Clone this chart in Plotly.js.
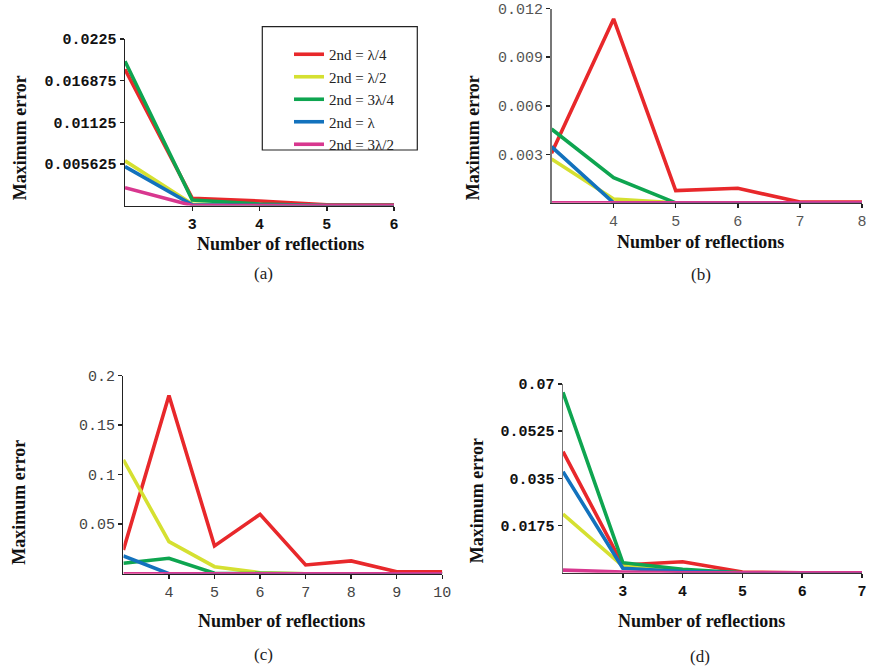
<!DOCTYPE html>
<html>
<head>
<meta charset="utf-8">
<script src="https://cdn.plot.ly/plotly-3.0.1.min.js"></script>
<style>html,body{margin:0;padding:0;background:#fff;}#chart{width:869px;height:667px;}</style>
</head>
<body>
<div id="chart"></div>
<script>
// ---- Data ----
const seriesNames = ["2nd = λ/4", "2nd = λ/2", "2nd = 3λ/4", "2nd = λ", "2nd = 3λ/2"];
const seriesColors = ["#e8282b", "#d5e031", "#0ea550", "#1372bd", "#d8378f"];

// Panel (a)
const xA = [2, 3, 4, 5, 6];
const aRed     = [0.0184, 0.00098, 0.0006, 0.0001, 0.0001];
const aYellow  = [0.00603, 0.0002, 0.0, 0.0, 0.0];
const aGreen   = [0.0195, 0.00075, 0.0002, 0.0, 0.0];
const aBlue    = [0.00526, 0.0001, 0.0, 0.0, 0.0];
const aMagenta = [0.00241, 0.0, 0.0, 0.0, 0.0];
const aTickVals = [0.005625, 0.01125, 0.016875, 0.0225];
const aTickText = ["0.005625", "0.01125", "0.016875", "0.0225"];
const aXTicks = [3, 4, 5, 6];

// Panel (b)
const xB = [3, 4, 5, 6, 7, 8];
const bRed     = [0.00306, 0.01137, 0.00075, 0.0009, 0.00005, 0.00005];
const bYellow  = [0.00271, 0.00023, 0.0, 0.0, 0.0, 0.0];
const bGreen   = [0.00456, 0.00155, 0.0, 0.0, 0.0, 0.0];
const bBlue    = [0.00347, 0.0, 0.0, 0.0, 0.0, 0.0];
const bMagenta = [0.0, 0.0, 0.0, 0.0, 0.0, 0.0];
const bTickVals = [0.003, 0.006, 0.009, 0.012];
const bTickText = ["0.003", "0.006", "0.009", "0.012"];
const bXTicks = [4, 5, 6, 7, 8];

// Panel (c)
const xC = [3, 4, 5, 6, 7, 8, 9, 10];
const cRed     = [0.024, 0.18, 0.028, 0.060, 0.0088, 0.0129, 0.002, 0.002];
const cYellow  = [0.115, 0.0324, 0.0071, 0.001, 0.0, 0.0, 0.0, 0.0];
const cGreen   = [0.0105, 0.0156, 0.0005, 0.0, 0.0, 0.0, 0.0, 0.0];
const cBlue    = [0.0179, 0.0, 0.0, 0.0, 0.0, 0.0, 0.0, 0.0];
const cMagenta = [0.0, 0.0, 0.0, 0.0, 0.0, 0.0, 0.0, 0.0];
const cTickVals = [0.05, 0.1, 0.15, 0.2];
const cTickText = ["0.05", "0.1", "0.15", "0.2"];
const cXTicks = [4, 5, 6, 7, 8, 9, 10];

// Panel (d)
const xD = [2, 3, 4, 5, 6, 7];
const dRed     = [0.0449, 0.0029, 0.0041, 0.0003, 0.0, 0.0];
const dYellow  = [0.0218, 0.0025, 0.0005, 0.0, 0.0, 0.0];
const dGreen   = [0.0669, 0.00375, 0.0013, 0.0, 0.0, 0.0];
const dBlue    = [0.0375, 0.0017, 0.0005, 0.0, 0.0, 0.0];
const dMagenta = [0.001, 0.0003, 0.0, 0.0, 0.0, 0.0];
const dTickVals = [0.0175, 0.035, 0.0525, 0.07];
const dTickText = ["0.0175", "0.035", "0.0525", "0.07"];
const dXTicks = [3, 4, 5, 6, 7];

const xTitle = "Number of reflections";
const yTitle = "Maximum error";
const captions = ["(a)", "(b)", "(c)", "(d)"];

// ---- Build ----
const W = 869, H = 667;
const px = v => v / W;
const py = v => 1 - v / H;

const panels = [
  {x: xA, ys: [aRed, aYellow, aGreen, aBlue, aMagenta], xa: "x", ya: "y", legend: true},
  {x: xB, ys: [bRed, bYellow, bGreen, bBlue, bMagenta], xa: "x2", ya: "y2", legend: false},
  {x: xC, ys: [cRed, cYellow, cGreen, cBlue, cMagenta], xa: "x3", ya: "y3", legend: false},
  {x: xD, ys: [dRed, dYellow, dGreen, dBlue, dMagenta], xa: "x4", ya: "y4", legend: false}
];

const traces = [];
panels.forEach(p => {
  p.ys.forEach((ys, i) => {
    traces.push({
      type: "scatter", mode: "lines", x: p.x, y: ys,
      xaxis: p.xa, yaxis: p.ya,
      name: seriesNames[i], showlegend: p.legend,
      line: {color: seriesColors[i], width: 3.6},
      hoverinfo: "skip"
    });
  });
});

const mono = "'Liberation Mono', 'Courier New', monospace";
const serif = "'Liberation Serif', 'Times New Roman', serif";

function xAx(domain, range, ticks, anchor, bold, lineColor, tickColor) {
  return {
    domain: domain, range: range, anchor: anchor,
    tickmode: "array", tickvals: ticks, ticktext: ticks.map(String),
    showgrid: false, zeroline: false, showline: true, linecolor: lineColor, linewidth: 1.5,
    ticks: "outside", ticklen: 4, tickwidth: 1.5, tickcolor: "#222",
    ticklabeloverflow: "allow",
    tickfont: {family: mono, size: 15, color: tickColor, weight: bold ? "bold" : "normal"},
    fixedrange: true
  };
}
function yAx(domain, range, vals, text, anchor, bold, lineColor, tickColor) {
  return {
    domain: domain, range: range, anchor: anchor,
    tickmode: "array", tickvals: vals, ticktext: text,
    showgrid: false, zeroline: false, showline: true, linecolor: lineColor, linewidth: 1.5,
    ticks: "outside", ticklen: 4, tickwidth: 1.5, tickcolor: "#222",
    ticklabeloverflow: "allow",
    tickfont: {family: mono, size: 15, color: tickColor, weight: bold ? "bold" : "normal"},
    fixedrange: true
  };
}

const layout = {
  width: W, height: H,
  margin: {l: 0, r: 0, t: 0, b: 0},
  paper_bgcolor: "#fff", plot_bgcolor: "rgba(0,0,0,0)",
  showlegend: true,
  legend: {
    x: px(289), y: py(38), xanchor: "left", yanchor: "top",
    bgcolor: "rgba(0,0,0,0)", borderwidth: 0,
    font: {family: serif, size: 15, color: "#222"},
    tracegroupgap: 0
  },
  xaxis:  xAx([px(125), px(394)], [2, 6], aXTicks, "y", true, "#222", "#111"),
  yaxis:  yAx([py(205.5), py(39)], [0, 0.0225], aTickVals, aTickText, "x", true, "#222", "#111"),
  xaxis2: xAx([px(551.5), px(862)], [3, 8], bXTicks, "y2", false, "#333", "#555"),
  yaxis2: yAx([py(202.8), py(8.7)], [0, 0.012], bTickVals, bTickText, "x2", false, "#777", "#555"),
  xaxis3: xAx([px(123.4), px(442.3)], [3, 10], cXTicks, "y3", false, "#222", "#444"),
  yaxis3: yAx([py(573.7), py(375.7)], [0, 0.2], cTickVals, cTickText, "x3", false, "#222", "#444"),
  xaxis4: xAx([px(563), px(862)], [2, 7], dXTicks, "y4", true, "#333", "#111"),
  yaxis4: yAx([py(572.8), py(384)], [0, 0.07], dTickVals, dTickText, "x4", true, "#777", "#111"),
  shapes: [{
    type: "rect", xref: "paper", yref: "paper",
    x0: px(262.3), x1: px(417.3), y0: py(150), y1: py(26.7),
    line: {color: "#222", width: 1.2}, fillcolor: "rgba(0,0,0,0)", layer: "below"
  }],
  annotations: []
};

const titleFont = {family: serif, size: 18, color: "#111", weight: "bold"};
const capFont = {family: serif, size: 17, color: "#222"};
const yTitlePos = [[20, 138.3], [473.3, 138], [18.3, 502.5], [476.7, 500.5]];
const xTitlePos = [[280, 244], [700.7, 242.3], [281.7, 620.7], [701.7, 620.7]];
const capPos = [[263, 273.3], [700.7, 274], [263.3, 654], [700, 656]];
for (let i = 0; i < 4; i++) {
  layout.annotations.push({
    xref: "paper", yref: "paper", x: px(yTitlePos[i][0]), y: py(yTitlePos[i][1]),
    text: yTitle, textangle: -90, showarrow: false, xanchor: "center", yanchor: "middle",
    font: titleFont
  });
  layout.annotations.push({
    xref: "paper", yref: "paper", x: px(xTitlePos[i][0]), y: py(xTitlePos[i][1]),
    text: xTitle, showarrow: false, xanchor: "center", yanchor: "middle",
    font: titleFont
  });
  layout.annotations.push({
    xref: "paper", yref: "paper", x: px(capPos[i][0]), y: py(capPos[i][1]),
    text: captions[i], showarrow: false, xanchor: "center", yanchor: "middle",
    font: capFont
  });
}

Plotly.newPlot("chart", traces, layout, {staticPlot: true, displayModeBar: false});
</script>
</body>
</html>
